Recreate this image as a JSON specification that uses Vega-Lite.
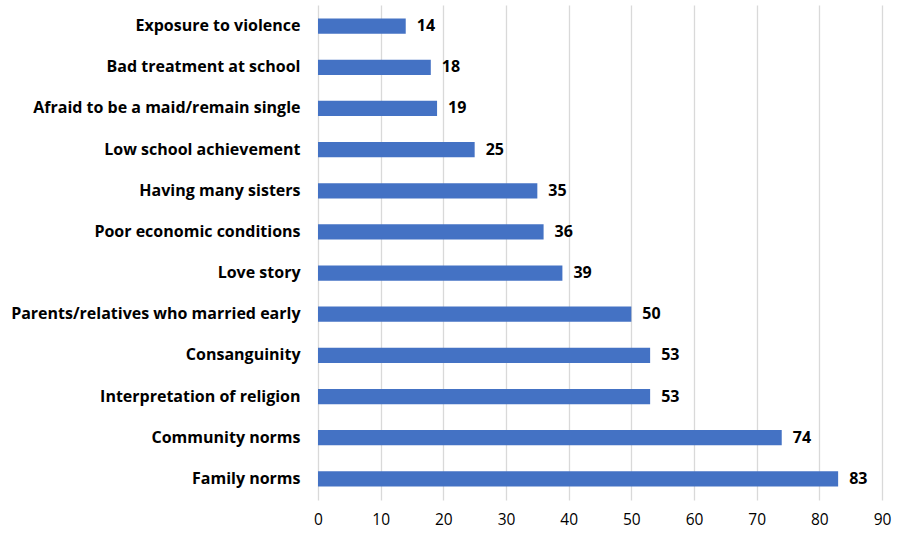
{
  "$schema": "https://vega.github.io/schema/vega-lite/v6.json",
  "width": 564,
  "height": 495,
  "autosize": {"type": "none"},
  "padding": {"left": 318, "top": 5, "right": 15, "bottom": 36},
  "background": "white",
  "config": {"view": {"stroke": null}, "font": "Open Sans"},
  "data": {"values": [
    {"reason": "Exposure to violence", "value": 14},
    {"reason": "Bad treatment at school", "value": 18},
    {"reason": "Afraid to be a maid/remain single", "value": 19},
    {"reason": "Low school achievement\u00a0", "value": 25},
    {"reason": "Having many sisters", "value": 35},
    {"reason": "Poor economic conditions\u00a0", "value": 36},
    {"reason": "Love story", "value": 39},
    {"reason": "Parents/relatives who married early\u00a0", "value": 50},
    {"reason": "Consanguinity", "value": 53},
    {"reason": "Interpretation of religion", "value": 53},
    {"reason": "Community norms\u00a0", "value": 74},
    {"reason": "Family norms", "value": 83}
  ]},
  "encoding": {
    "y": {"field": "reason", "type": "nominal", "sort": null, "title": null,
      "scale": {"paddingInner": 0.63, "paddingOuter": 0.33},
      "axis": {"domain": false, "ticks": false, "labelPadding": 18, "labelFont": "Open Sans", "labelFontSize": 16, "labelFontWeight": "bold", "labelColor": "#000000", "labelLimit": 400}},
    "x": {"field": "value", "type": "quantitative", "title": null,
      "scale": {"domain": [0, 90], "nice": false},
      "axis": {"values": [0,10,20,30,40,50,60,70,80,90], "domain": false, "ticks": false, "labelFlush": false, "labelPadding": 12, "labelFont": "Open Sans", "labelFontSize": 15.5, "labelColor": "#000000", "gridColor": "#d9d9d9", "gridWidth": 1.3}}
  },
  "layer": [
    {"mark": {"type": "bar", "color": "#4472C4"}},
    {"mark": {"type": "text", "align": "left", "baseline": "middle", "dx": 11, "font": "Open Sans", "fontSize": 16, "fontWeight": "bold", "color": "#000000"},
     "encoding": {"text": {"field": "value", "type": "quantitative"}}}
  ]
}
